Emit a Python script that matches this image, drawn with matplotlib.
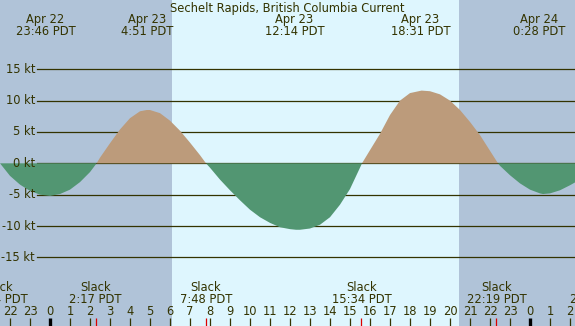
import numpy as np
import matplotlib
matplotlib.use("Agg")
import matplotlib.pyplot as plt

# hours since Apr 23 00:00 PDT, current speed in knots
hours = [-3.0, -2.5, -2.0, -1.5, -1.0, -0.5, 0.0, 0.5, 1.0, 1.5, 2.0, 2.33,
         2.5, 3.0, 3.5, 4.0, 4.5, 4.83, 5.0, 5.5, 6.0, 6.5, 7.0, 7.5, 7.8,
         8.0, 8.5, 9.0, 9.5, 10.0, 10.5, 11.0, 11.5, 12.0, 12.3, 12.5, 13.0,
         13.5, 14.0, 14.5, 15.0, 15.5, 15.6, 16.0, 16.5, 17.0, 17.5, 18.0,
         18.58, 19.0, 19.5, 20.0, 20.5, 21.0, 21.5, 22.0, 22.4, 22.5, 23.0,
         23.5, 24.0, 24.5, 24.65, 25.0, 25.5, 26.0, 26.5, 27.0]
knots = [1.0, 0.0, -2.0, -3.4, -4.4, -5.0, -5.2, -4.9, -4.2, -3.0, -1.4, 0.0,
         0.9, 3.2, 5.4, 7.2, 8.3, 8.5, 8.5, 8.0, 6.8, 5.2, 3.3, 1.3, 0.0,
         -0.7, -2.6, -4.3, -5.9, -7.4, -8.6, -9.5, -10.2, -10.5, -10.6, -10.6, -10.4,
         -9.8, -8.6, -6.6, -4.1, -0.7, 0.0, 2.1, 4.7, 7.7, 10.0, 11.2,
         11.6, 11.5, 11.0, 10.0, 8.5, 6.6, 4.5, 2.0, 0.0, -0.4, -1.9,
         -3.2, -4.2, -4.8, -4.9, -4.8, -4.3, -3.5, -2.6, -1.5]

max_times = [-0.23, 4.85, 12.23, 18.52, 24.47]
max_days = ["Apr 22", "Apr 23", "Apr 23", "Apr 23", "Apr 24"]
max_labels = ["23:46 PDT", "4:51 PDT", "12:14 PDT", "18:31 PDT", "0:28 PDT"]

slack_times = [-2.6, 2.28, 7.8, 15.57, 22.32, 27.3]
slack_labels = ["21:24 PDT", "2:17 PDT", "7:48 PDT", "15:34 PDT", "22:19 PDT", "2:59 PDT"]

sunrise = 6.1
sunset = 20.45
grid_kt = [15, 10, 5, 0, -5, -10, -15]
hour_ticks = list(range(-2, 27))

night = "#B0C3D8"
day = "#DEF6FE"
ink = "#333300"

t = np.array(hours)
v = np.array(knots)

fig = plt.figure(figsize=(5.75, 3.26), dpi=100)
ax = fig.add_axes([0, 0, 1, 1])
ax.set_xlim(-2.5, 26.25)
ax.set_ylim(-25.95, 26.05)
ax.axis("off")
ax.add_patch(plt.Rectangle((0, 0), 1, 1, transform=ax.transAxes, color=day, zorder=0))

# night shading
ax.axvspan(-2.5, sunrise, color=night, lw=0, zorder=1)
ax.axvspan(sunset, 26.25, color=night, lw=0, zorder=1)

for k in grid_kt:
    ax.axhline(k, xmin=37 / 575, xmax=1, color=ink, lw=0.9, zorder=2)
    ax.text(35 / 575, k, f"{k} kt", transform=ax.get_yaxis_transform(),
            ha="right", va="center", fontsize=8.3, color=ink, zorder=5)

ax.fill_between(t, v, 0, where=v >= 0, interpolate=True, color="#BC9B7B", lw=0, zorder=3)
ax.fill_between(t, v, 0, where=v <= 0, interpolate=True, color="#529672", lw=0, zorder=3)

xt = ax.get_xaxis_transform()
ax.text(0.5, 0.975, "Sechelt Rapids, British Columbia Current", transform=ax.transAxes,
        ha="center", va="center", fontsize=8.3, color=ink, zorder=5)
for tm, d, lab in zip(max_times, max_days, max_labels):
    ax.text(tm, 0.939, d, transform=xt, ha="center", va="center", fontsize=8.3, color=ink, zorder=5)
    ax.text(tm, 0.903, lab, transform=xt, ha="center", va="center", fontsize=8.3, color=ink, zorder=5)

for tm, lab in zip(slack_times, slack_labels):
    ax.text(tm, 0.119, "Slack", transform=xt, ha="center", va="center", fontsize=8.3, color=ink, zorder=5)
    ax.text(tm, 0.082, lab, transform=xt, ha="center", va="center", fontsize=8.3, color=ink, zorder=5)

# hour ticks along the bottom
for h in hour_ticks:
    ax.text(h, 0.044, str(h % 24), transform=xt, ha="center", va="center", fontsize=8.3, color=ink, zorder=5)
    if h % 24 == 0:
        ax.vlines(h, 0, 0.0245, transform=xt, color="black", lw=2.4, zorder=4)
    else:
        ax.vlines(h, 0, 0.0245, transform=xt, color=ink, lw=0.9, zorder=4)
ax.vlines(slack_times, 0, 0.0245, transform=xt, color="#DD0000", lw=0.9, zorder=4)

fig.savefig("out.png", dpi=100)
